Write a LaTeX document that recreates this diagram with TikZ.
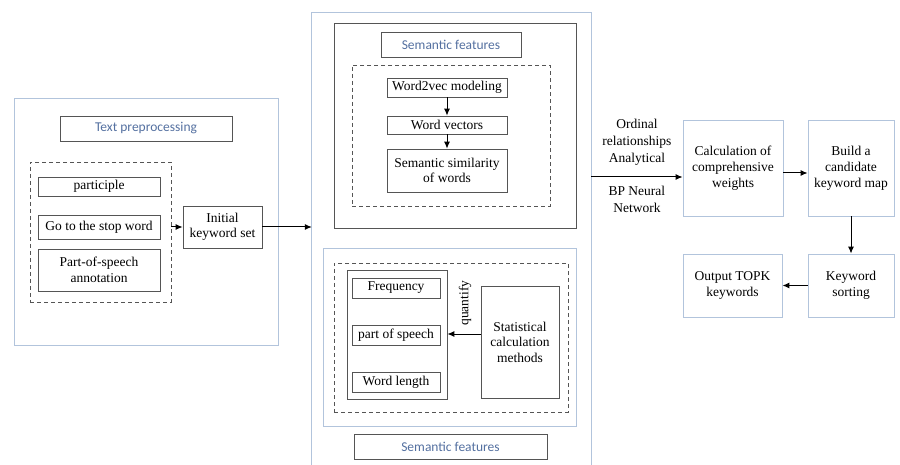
\documentclass[tikz,border=0pt]{standalone}
\usepackage{fontspec}
\setmainfont{Liberation Serif}
\newfontfamily\boxfont{Liberation Serif}
\newfontfamily\titlefont{Carlito}
\usepackage{tikz}
\usetikzlibrary{positioning, calc, arrows.meta}
\definecolor{panelblue}{RGB}{178,196,220}
\definecolor{titleblue}{RGB}{84,112,160}
\definecolor{boxgray}{RGB}{85,85,85}
\tikzstyle{Arrow} = [
%arrow used between the boxes:
line width = 1pt,
-{Latex[length = 7pt, width = 6pt]}
]

\begin{document}
\begin{tikzpicture}[x = 1pt, y = -1pt,
				panel/.style = {rectangle, draw = panelblue, line width = 0.9pt, inner sep = 0pt},
				title/.style = {rectangle, draw = boxgray, line width = 0.7pt, inner sep = 0pt, font = \titlefont\fontsize{13.5}{15}\selectfont, text = titleblue},
				box/.style = {rectangle, draw = boxgray, line width = 0.7pt, inner sep = 0pt, align = center, font = \boxfont\fontsize{13.5}{15.5}\selectfont},
				dashbox/.style = {rectangle, draw = boxgray, line width = 0.8pt, dash pattern = on 4pt off 3pt, inner sep = 0pt},
				step box/.style = {rectangle, draw = panelblue, line width = 0.9pt, inner sep = 0pt, align = center, font = \boxfont\fontsize{13.5}{16}\selectfont},
				label/.style = {align = center, font = \boxfont\fontsize{13.5}{17}\selectfont},
			]
			\useasboundingbox (0,0) rectangle (900,465);

			% text preprocessing
			\node[panel, minimum width = 264, minimum height = 247](prep) at (146,221.5){};
			\node[title, minimum width = 172, minimum height = 25](prepT) at (146,128.5){Text preprocessing};
			\node[dashbox, minimum width = 141, minimum height = 140](prepD) at (100.5,232){};
			\node[box, minimum width = 122, minimum height = 19](part) at (99,186.5){participle};
			\node[box, minimum width = 122, minimum height = 24](stop) at (99,227){Go to the stop word};
			\node[box, minimum width = 122, minimum height = 42](tag) at (99,270){Part-of-speech\\annotation};
			\node[box, minimum width = 79, minimum height = 42](init) at (222.5,227){Initial\\keyword set};

			% features
			\node[minimum width = 279, minimum height = 452, inner sep = 0pt](feat) at (451.5,239){};
			\draw[panelblue, line width = 0.9pt](feat.south west) |- (feat.north east) -- (feat.south east);

			\node[box, minimum width = 242, minimum height = 205](sem) at (455,125.5){};
			\node[title, minimum width = 140, minimum height = 25](semT) at (451,44.5){Semantic features};
			\node[dashbox, minimum width = 198, minimum height = 141](semD) at (451,135.5){};
			\node[box, minimum width = 120, minimum height = 19](w2v) at (447,87.5){Word2vec modeling};
			\node[box, minimum width = 120, minimum height = 18](wvec) at (447,125){Word vectors};
			\node[box, minimum width = 120, minimum height = 43](sim) at (447,170.5){Semantic similarity\\of words};

			\node[panel, minimum width = 253, minimum height = 178](stat) at (449.5,337){};
			\node[dashbox, minimum width = 234, minimum height = 149](statD) at (451,337.5){};
			\node[box, minimum width = 100, minimum height = 129](items) at (397,334.5){};
			\node[box, minimum width = 88, minimum height = 20](freq) at (396,288){Frequency};
			\node[box, minimum width = 88, minimum height = 20](pos) at (396,335){part of speech};
			\node[box, minimum width = 88, minimum height = 20](len) at (396,382){Word length};
			\node[box, minimum width = 78, minimum height = 112](calcm) at (520,342){Statistical\\calculation\\methods};
			\node[title, minimum width = 193, minimum height = 25](statT) at (450.5,446.5){Semantic features};

			% weights and output
			\node[step box, minimum width = 100, minimum height = 96](weight) at (733,168){Calculation of\\comprehensive\\weights};
			\node[step box, minimum width = 86, minimum height = 96](map) at (851,168){Build a\\candidate\\keyword map};
			\node[step box, minimum width = 86, minimum height = 63](sort) at (851,285.5){Keyword\\sorting};
			\node[step box, minimum width = 99, minimum height = 63](out) at (732.5,285.5){Output TOPK\\keywords};

			\draw[Arrow](prepD.east |- init.west)--(init);
			\draw[Arrow](init)--(init -| feat.west);
			\draw[Arrow](w2v)--(wvec);
			\draw[Arrow](wvec)--(sim);
			\draw[Arrow](calcm.west |- 0,334)--node[pos = 0.47, rotate = 90, anchor = west, inner sep = 8pt, label] {quantify}(items.east |- 0,334);
			\draw[Arrow](feat.east |- 0,177)--node[midway, above, inner sep = 11pt, label] {Ordinal\\relationships\\Analytical}node[midway, below, inner sep = 9pt, label] {BP Neural\\Network}(weight.west |- 0,177);
			\draw[Arrow](weight.east |- 0,173)--(map.west |- 0,173);
			\draw[Arrow](map)--(sort);
			\draw[Arrow](sort)--(out);

		\end{tikzpicture}
\end{document}
